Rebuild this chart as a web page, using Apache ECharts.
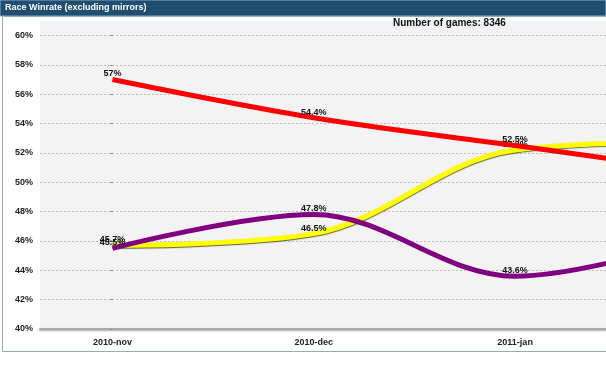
<!DOCTYPE html>
<html>
<head>
<meta charset="utf-8">
<script src="https://cdn.jsdelivr.net/npm/echarts@6/dist/echarts.min.js"></script>
<style>
html,body{margin:0;padding:0;background:#fff;}
#chart{width:606px;height:365px;}
</style>
</head>
<body>
<div id="chart"></div>
<script>
const categories = ['2010-nov', '2010-dec', '2011-jan', '2011-feb'];
const redValues = [57, 54.4, 52.5, 50.6];
const yellowValues = [45.7, 46.5, 52.2, 52.8];
const purpleValues = [45.5, 47.8, 43.6, 46.5];
const yTicks = [40, 42, 44, 46, 48, 50, 52, 54, 56, 58, 60];
const chartTitle = 'Race Winrate (excluding mirrors)';
const gamesText = 'Number of games: 8346';

const FONT = '"Liberation Sans", Arial, sans-serif';
const chart = echarts.init(document.getElementById('chart'), null, {renderer: 'canvas'});

function toPairs(arr) { return arr.map((v, i) => [i, v]); }

const labelCfg = {
  show: true,
  position: 'top',
  distance: 1,
  fontSize: 9,
  fontWeight: 'bold',
  fontFamily: FONT,
  color: '#111111',
  formatter: p => p.value[1] + '%'
};

function series(name, data, color, z, extra) {
  return Object.assign({
    name: name,
    type: 'line',
    data: toPairs(data),
    smooth: 0.35,
    symbol: 'circle',
    symbolSize: 0.1,
    itemStyle: {color: color},
    lineStyle: {color: color, width: 5},
    label: labelCfg,
    z: z,
    animation: false
  }, extra || {});
}

const option = {
  animation: false,
  backgroundColor: '#ffffff',
  title: [
    {text: chartTitle, left: 5, top: 3, padding: 0,
     textStyle: {color: '#ffffff', fontSize: 9, fontWeight: 'bold', fontFamily: FONT}},
    {text: gamesText, left: 393, top: 18, padding: 0,
     textStyle: {color: '#111111', fontSize: 10, fontWeight: 'bold', fontFamily: FONT}}
  ],
  graphic: [
    {type: 'rect', z: -10, silent: true, shape: {x: 0, y: 0, width: 606, height: 16},
     style: {fill: '#1f4e70', stroke: '#86a8c2', lineWidth: 1}},
    {type: 'rect', z: -10, silent: true, shape: {x: 2.5, y: 16.5, width: 700, height: 335},
     style: {fill: '#ffffff', stroke: '#98abba', lineWidth: 1}},
    {type: 'rect', z: -9, silent: true, shape: {x: 40, y: 21, width: 570, height: 308},
     style: {fill: '#f3f3f3'}}
  ],
  grid: {left: 40, right: 0, top: 35.5, bottom: 36, containLabel: false},
  xAxis: {
    type: 'value',
    min: -0.3602,
    max: 2.4515,
    axisLine: {show: true, lineStyle: {color: '#aaaaaa', width: 2,
      shadowColor: 'rgba(0,0,0,0.35)', shadowBlur: 2, shadowOffsetY: 1}},
    axisTick: {show: false},
    splitLine: {show: false},
    axisLabel: {
      customValues: [0, 1, 2],
      formatter: v => categories[Math.round(v)],
      fontSize: 9, fontWeight: 'bold', fontFamily: FONT, color: '#222222', margin: 9
    }
  },
  yAxis: {
    type: 'value',
    min: 40,
    max: 60,
    interval: 2,
    axisLine: {show: false},
    axisTick: {show: true, length: 2, lineStyle: {color: '#777'}},
    axisLabel: {formatter: v => v + '%', fontSize: 9, fontWeight: 'bold', fontFamily: FONT,
      color: '#222222', margin: 7},
    splitLine: {show: true, lineStyle: {color: '#bdbdbd', type: [2, 2], width: 1}}
  },
  series: [
    series('Yellow', yellowValues, '#ffff00', 2,
      {lineStyle: {color: '#ffff00', width: 5, shadowColor: 'rgba(60,60,0,0.8)', shadowBlur: 1, shadowOffsetY: 1}}),
    series('Purple', purpleValues, '#800080', 3),
    series('Red', redValues, '#ff0000', 4)
  ]
};
chart.setOption(option);
</script>
</body>
</html>
